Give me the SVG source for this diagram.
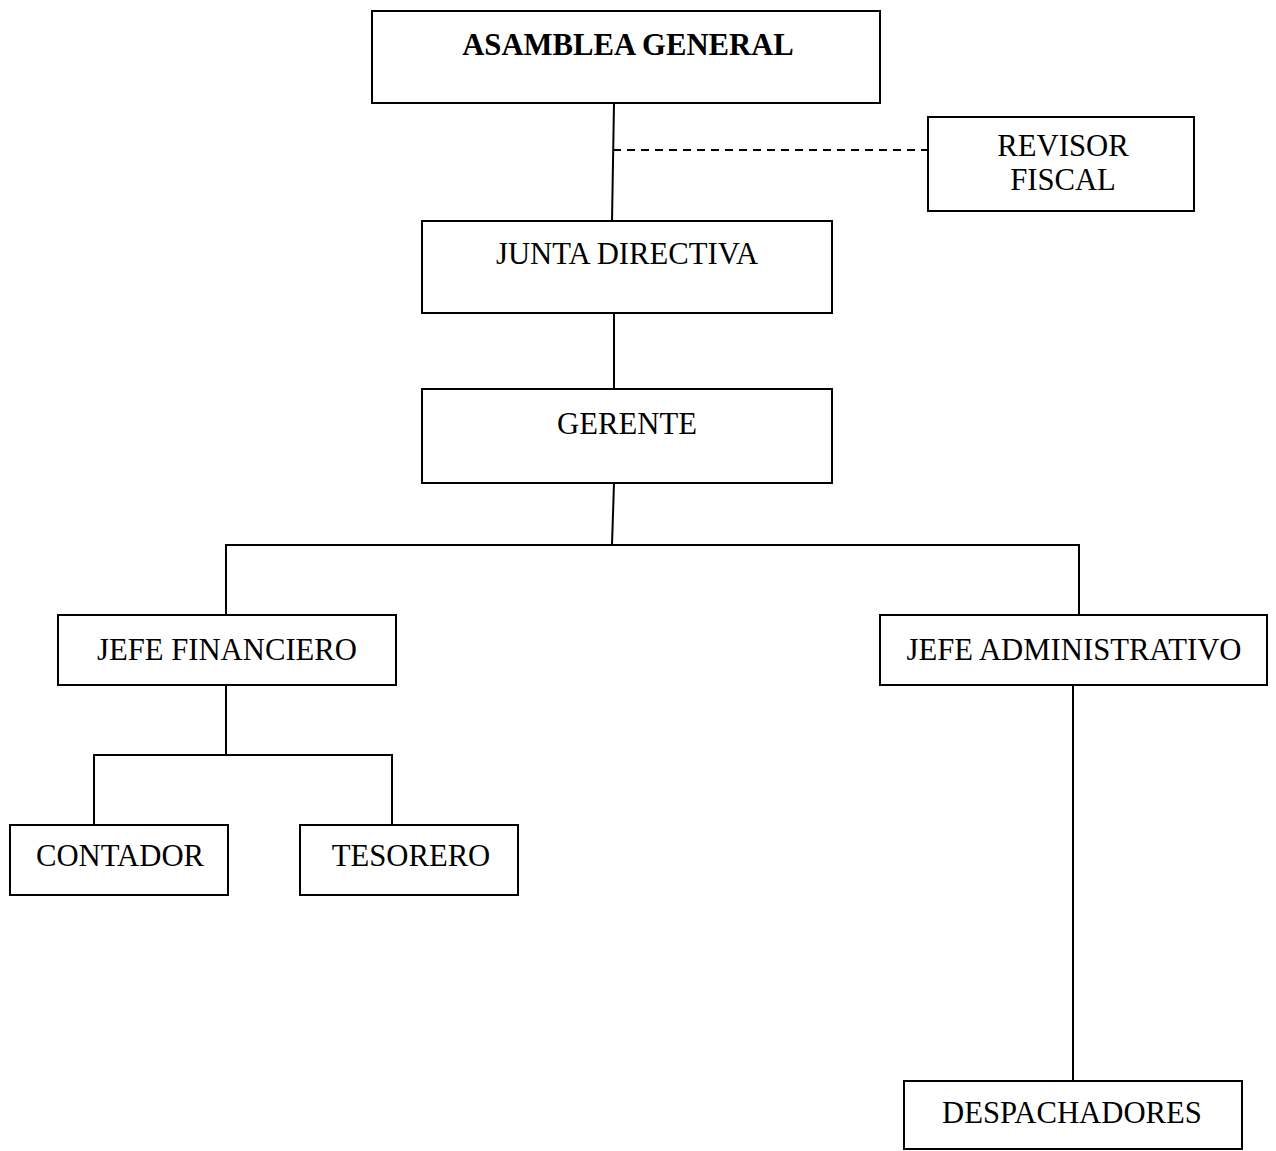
<svg xmlns="http://www.w3.org/2000/svg" width="1276" height="1151" viewBox="0 0 1276 1151">
<style>
.box{fill:#fff;stroke:#000;stroke-width:2}
.t{font-family:"Liberation Serif","Times New Roman",serif;font-size:30.7px;fill:#000;text-anchor:middle}
.b{font-weight:bold}
.c{fill:none;stroke:#000;stroke-width:2}
.d{fill:none;stroke:#000;stroke-width:2;stroke-dasharray:8,6}
</style>
<rect width="1276" height="1151" fill="#fff"/>
<g id="connectors">
<line class="c" x1="614" y1="103" x2="612" y2="221"/>
<line class="d" x1="613" y1="150" x2="936" y2="150"/>
<line class="c" x1="614" y1="313" x2="614" y2="389"/>
<line class="c" x1="614" y1="483" x2="612" y2="545"/>
<polyline class="c" points="226,615 226,545 1079,545 1079,615"/>
<line class="c" x1="226" y1="685" x2="226" y2="755"/>
<polyline class="c" points="94,825 94,755 392,755 392,825"/>
<line class="c" x1="1073" y1="685" x2="1073" y2="1081"/>
</g>
<g id="asamblea"><rect class="box" x="372" y="11" width="508" height="92"/><text class="t b" x="628" y="55">ASAMBLEA GENERAL</text></g>
<g id="revisor"><rect class="box" x="928" y="117" width="266" height="94"/><text class="t" x="1063" y="156">REVISOR</text><text class="t" x="1063" y="190">FISCAL</text></g>
<g id="junta"><rect class="box" x="422" y="221" width="410" height="92"/><text class="t" x="627" y="264">JUNTA DIRECTIVA</text></g>
<g id="gerente"><rect class="box" x="422" y="389" width="410" height="94"/><text class="t" x="627" y="434">GERENTE</text></g>
<g id="jefe-financiero"><rect class="box" x="58" y="615" width="338" height="70"/><text class="t" x="227" y="660">JEFE FINANCIERO</text></g>
<g id="jefe-administrativo"><rect class="box" x="880" y="615" width="387" height="70"/><text class="t" x="1074" y="660">JEFE ADMINISTRATIVO</text></g>
<g id="contador"><rect class="box" x="10" y="825" width="218" height="70"/><text class="t" x="120" y="866">CONTADOR</text></g>
<g id="tesorero"><rect class="box" x="300" y="825" width="218" height="70"/><text class="t" x="411" y="866">TESORERO</text></g>
<g id="despachadores"><rect class="box" x="904" y="1081" width="338" height="68"/><text class="t" x="1072" y="1123">DESPACHADORES</text></g>
</svg>
